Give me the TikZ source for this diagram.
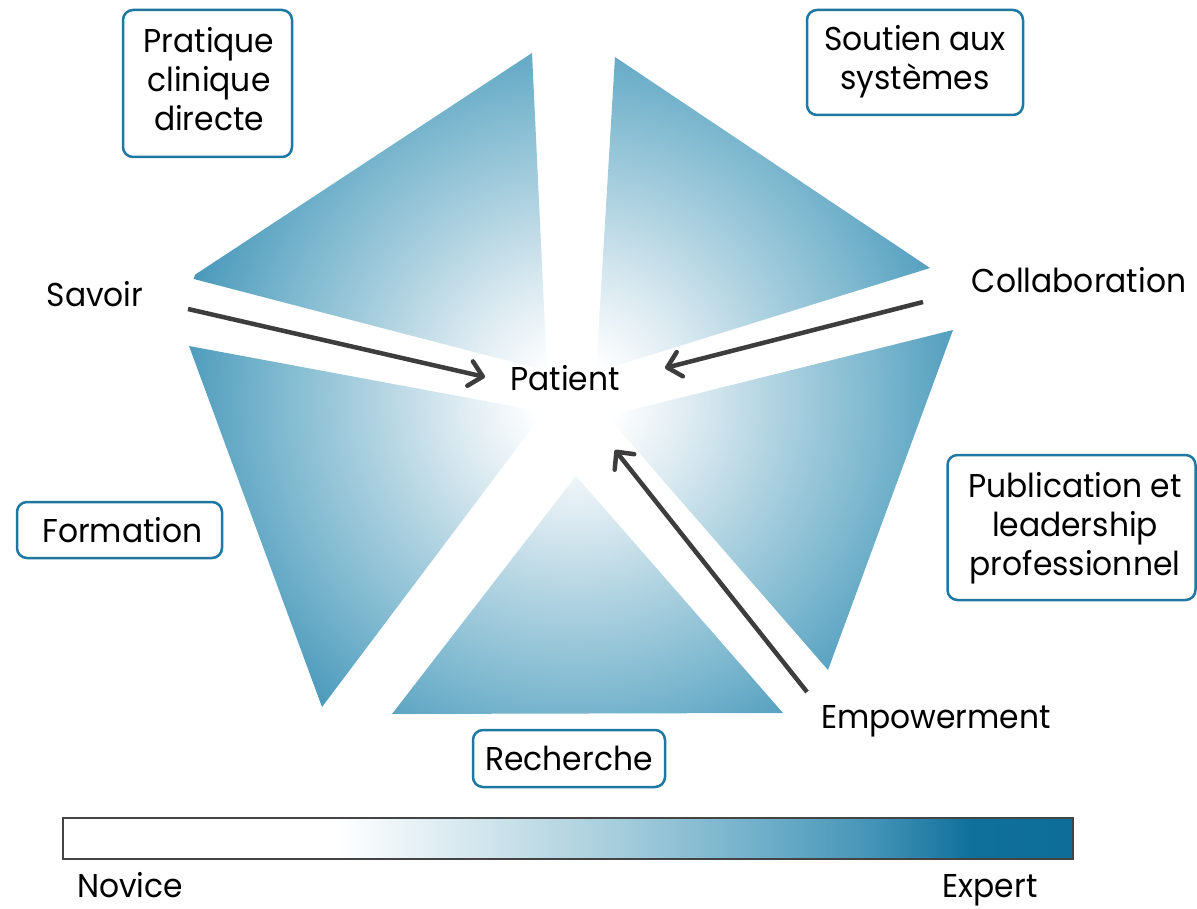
\documentclass[tikz,border=0pt]{standalone}
\usepackage{fontspec}
\setmainfont{Poppins}[FakeStretch=0.95]
\usetikzlibrary{arrows.meta}
\definecolor{boxblue}{HTML}{1F78A2}
\definecolor{arrowgray}{HTML}{3D3D3D}
\definecolor{bargray}{HTML}{444444}
\definecolor{pa}{HTML}{DBEAF1}
\definecolor{pb}{HTML}{B0D3E1}
\definecolor{pc}{HTML}{7DB8CF}
\definecolor{pd}{HTML}{4A99BB}
\definecolor{ba}{HTML}{D6E8EF}
\definecolor{bb}{HTML}{A5CDDC}
\definecolor{bc}{HTML}{6CADC8}
\definecolor{bd}{HTML}{4494B7}
\definecolor{be}{HTML}{0F709B}
\definecolor{bf}{HTML}{0E6E99}
\pgfdeclareradialshading{pentshade}{\pgfpoint{0bp}{0bp}}{color(0bp)=(white); color(2.5bp)=(white); color(7.5bp)=(pa); color(12.5bp)=(pb); color(18.75bp)=(pc); color(25bp)=(pd); color(50bp)=(pd)}
\pgfdeclarehorizontalshading{barshade}{100bp}{color(0bp)=(white); color(38.5bp)=(white); color(45bp)=(ba); color(52.5bp)=(bb); color(60bp)=(bc); color(65bp)=(bd); color(70bp)=(be); color(75bp)=(bf); color(100bp)=(bf)}
\begin{document}
\begin{tikzpicture}[x=1pt,y=-1pt,
  every node/.style={font=\fontsize{33}{39}\selectfont, inner sep=0pt},
  boxnode/.style={draw=boxblue, line width=2.5pt, rounded corners=10pt},
  boxtext/.style={align=center},
  lbl/.style={anchor=base},
  conn/.style={draw=arrowgray, line width=4.5pt, -{Straight Barb[length=13pt,width=25pt,round]}}]
\useasboundingbox (0,0) rectangle (1197,909);
% pentagon pieces
\begin{scope}
\clip (190,278) -- (532,53) -- (547,371) -- cycle
      (615,57) -- (930,268) -- (596,372) -- cycle
      (953,330) -- (828,670) -- (607,416) -- cycle
      (783,713) -- (392,714) -- (576,476) -- cycle
      (322,707) -- (189,346) -- (544,412) -- cycle;
\shade[shading=pentshade] (575,400) circle (400);
\end{scope}
% boxes
\node[boxnode, minimum width=169pt, minimum height=147pt] (pcd) at (207.5,83.5) {};
\node[boxtext] (pcdt) at (209,79.5) {Pratique\\clinique\\directe};
\node[boxnode, minimum width=216pt, minimum height=105pt] (sas) at (915,62.5) {};
\node[boxtext] (sast) at (915,62) {Soutien aux\\systèmes};
\node[boxnode, minimum width=248pt, minimum height=145pt] (pub) at (1071.5,527.5) {};
\node[boxtext] (pubt) at (1075,528) {Publication et\\leadership\\professionnel};
\node[boxnode, minimum width=205pt, minimum height=56pt] (form) at (119.5,530) {};
\node[boxtext] (formt) at (122.5,530) {Formation};
\node[boxnode, minimum width=192pt, minimum height=57pt] (rech) at (569,758.5) {};
\node[boxtext] (recht) at (569,758.5) {Recherche};
% labels
\node[lbl] (savoir) at (95,307) {Savoir};
\node[lbl] (collab) at (1079,293) {Collaboration};
\node[lbl] (patient) at (565,390) {Patient};
\node[lbl] (empow) at (936,728) {Empowerment};
% arrows
\coordinate (s1) at (188,309);
\coordinate (e1) at (485,377);
\coordinate (s2) at (923,302);
\coordinate (e2) at (665,368);
\coordinate (s3) at (807,692);
\coordinate (e3) at (615,450);
\draw[conn] (s1) -- (e1);
\draw[conn] (s2) -- (e2);
\draw[conn] (s3) -- (e3);
% bar
\shade[shading=barshade, draw=bargray, line width=1.5pt] (63,818) rectangle (1073,859);
\node[lbl] (novice) at (130,897) {Novice};
\node[lbl] (expert) at (990,897) {Expert};
\end{tikzpicture}
\end{document}
